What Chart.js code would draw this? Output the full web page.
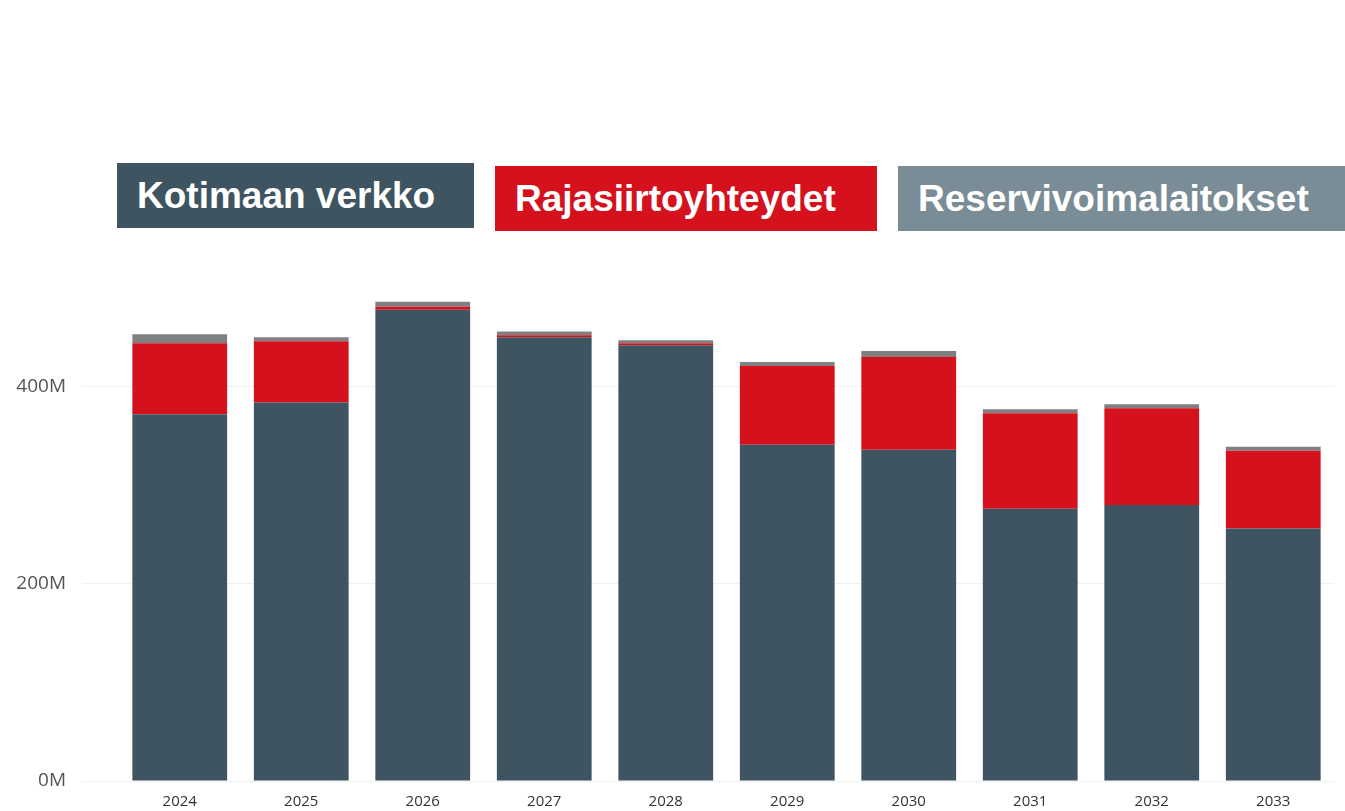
<!DOCTYPE html>
<html>
<head>
<meta charset="utf-8">
<script src="https://cdn.jsdelivr.net/npm/chart.js@4.4.1/dist/chart.umd.min.js"></script>
<style>
  html, body { margin: 0; padding: 0; background: #fff; }
  #wrap { position: relative; width: 1345px; height: 811px; overflow: hidden; }
  #myChart { position: absolute; left: 0; top: 0; }
  .tag {
    position: absolute; height: 65px; color: #fff;
    font-family: "Liberation Sans", Arial, sans-serif; font-weight: bold; font-size: 37px;
    line-height: 65px; padding-left: 20px; box-sizing: border-box; white-space: nowrap;
  }
</style>
</head>
<body>
<div id="wrap">
  <canvas id="myChart" width="1345" height="811"></canvas>
  <div class="tag" style="left:117px; top:163px; width:357px; background:#3e5461;">Kotimaan verkko</div>
  <div class="tag" style="left:495px; top:166px; width:382px; background:#d6111e;">Rajasiirtoyhteydet</div>
  <div class="tag" style="left:898px; top:166px; width:447px; background:#7a8c96;">Reservivoimalaitokset</div>
</div>
<script>
const years = ["2024", "2025", "2026", "2027", "2028", "2029", "2030", "2031", "2032", "2033"];
// values in millions
const kotimaanVerkko = [372, 384, 478, 450, 442, 341, 336, 276, 280, 256];
const rajasiirto = [72, 62, 3, 2, 2, 80, 94, 97, 98, 79];
const reservi = [9, 4, 5, 4, 3, 4, 6, 4, 4, 4];
const yTicks = [0, 200, 400];

const barColors = ["#3e5461", "#d6111e", "#808080"];

new Chart("myChart", {
    type: "bar",
    data: {
        labels: years,
        datasets: [{
            label: "Kotimaan verkko",
            backgroundColor: barColors[0],
            data: kotimaanVerkko
        }, {
            label: "Rajasiirtoyhteydet",
            backgroundColor: barColors[1],
            data: rajasiirto
        }, {
            label: "Reservivoimalaitokset",
            backgroundColor: barColors[2],
            data: reservi
        }]
    },
    options: {
        responsive: false,
        animation: false,
        layout: {
            padding: { top: 288, right: 11, bottom: 0, left: 0 }
        },
        datasets: {
            bar: { categoryPercentage: 1, barPercentage: 0.78 }
        },
        plugins: {
            legend: { display: false },
            tooltip: { enabled: false }
        },
        scales: {
            x: {
                stacked: true,
                afterFit: axis => { axis.height = 30; },
                grid: { display: false },
                border: { display: false },
                ticks: {
                    color: "#333",
                    padding: 4,
                    font: { family: "'Open Sans', sans-serif", size: 15 }
                }
            },
            y: {
                stacked: true,
                min: 0,
                max: 500,
                afterBuildTicks: axis => {
                    axis.ticks = yTicks.map(v => ({ value: v }));
                },
                afterFit: axis => { axis.width = 119; },
                grid: {
                    color: "#f0f0f0",
                    tickLength: 37,
                    tickColor: "#f0f0f0"
                },
                border: { display: false },
                ticks: {
                    color: "#555",
                    padding: 16,
                    font: { family: "'Open Sans', sans-serif", size: 19 },
                    callback: v => v + "M"
                }
            }
        }
    }
});
</script>
</body>
</html>
